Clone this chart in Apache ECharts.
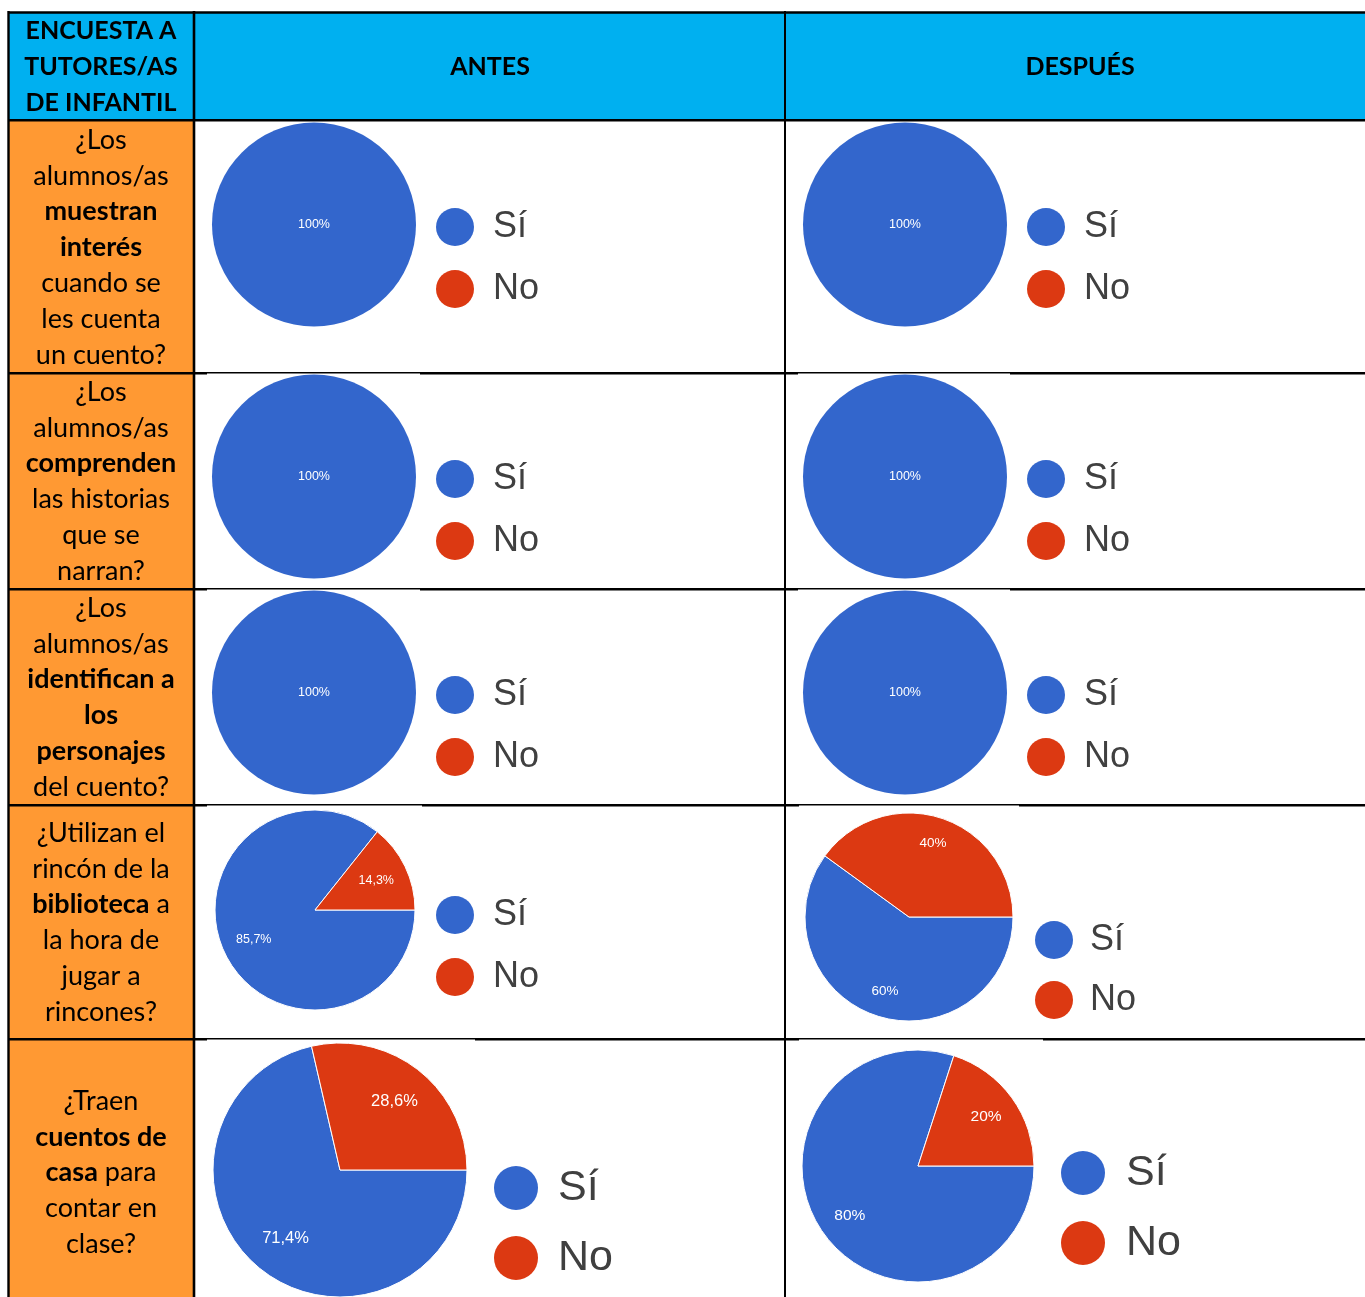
<!DOCTYPE html>
<html><head><meta charset="utf-8">
<script src="https://cdn.jsdelivr.net/npm/echarts@6/dist/echarts.min.js"></script>
<style>html,body{margin:0;padding:0;background:#fff}#c{width:1365px;height:1297px}</style>
</head><body><div id="c"></div>
<script>
// ---- data ----
const seriesNames = ['Sí', 'No'];
const antesSi = [100, 100, 100, 85.7, 71.4];
const antesNo = [0, 0, 0, 14.3, 28.6];
const despuesSi = [100, 100, 100, 60, 80];
const despuesNo = [0, 0, 0, 40, 20];
const columnHeaders = ['ANTES', 'DESPUÉS'];
const cornerHeader = ['ENCUESTA A', 'TUTORES/AS', 'DE INFANTIL'];
const questions = [
  ['¿Los', 'alumnos/as', '**muestran**', '**interés**', 'cuando se', 'les cuenta', 'un cuento?'],
  ['¿Los', 'alumnos/as', '**comprenden**', 'las historias', 'que se', 'narran?'],
  ['¿Los', 'alumnos/as', '**identifican a**', '**los**', '**personajes**', 'del cuento?'],
  ['¿Utilizan el', 'rincón de la', '**biblioteca** a', 'la hora de', 'jugar a', 'rincones?'],
  ['¿Traen', '**cuentos de**', '**casa** para', 'contar en', 'clase?']
];

// ---- layout / style ----
const BLUE = '#3366CC', RED = '#DC3912', CYAN = '#00B0F0', ORANGE = '#FF9933';
const colX = [8, 194, 785, 1366];
const rowY = [12, 120, 373, 589, 805, 1039, 1297];
const textTop = [140, 392, 608, 833, 1101];
const lineStep = 35.8;
const colCenter = [101, 490, 1080];
// [cx, cy, r, labelFontSize, labelRingFactor]
const pieAntes = [[314,224.5,102,12.5,1.4],[314,476.5,102,12.5,1.4],[314,692.5,102,12.5,1.4],[315,910,100,12.5,1.3],[340,1170,127,16.5,1.33]];
const pieDespues = [[905,224.5,102,12.5,1.4],[905,476.5,102,12.5,1.4],[905,692.5,102,12.5,1.4],[909,917,104,13.5,1.44],[918,1166,116,15.5,1.4]];
// [left, top, diameter, gap, fontSize, textGap]
const legAntes = [[436,208,38,24,36,19],[436,460,38,24,36,19],[436,676,38,24,36,19],[436,896,38,24,36,19],[494,1166,44,26,43,20]];
const legDespues = [[1027,208,38,24,36,19],[1027,460,38,24,36,19],[1027,676,38,24,36,19],[1035,921,38,22,36,17],[1061,1151,44,26,43,21]];
const covers = [[207,420,373],[207,420,589],[207,422,805],[207,475,1039],[798,1010,373],[798,1010,589],[799,1019,805],[799,1043,1039]];

const fmt = v => String(v).replace('.', ',') + '%';

const series = [];
const legends = [];
function addPie(si, no, p, l) {
  const [cx, cy, r, fs, rf] = p;
  const full = si === 0 || no === 0;
  const data = [
    { name: seriesNames[0], value: si, itemStyle: { color: BLUE } },
    { name: seriesNames[1], value: no, itemStyle: { color: RED } }
  ];
  series.push({
    type: 'pie', center: [cx, cy], radius: r, startAngle: 0, clockwise: true,
    silent: true, animation: false, avoidLabelOverlap: false,
    itemStyle: { borderColor: '#fff', borderWidth: full ? 0 : 1 },
    label: full ? { show: true, position: 'center', color: '#fff', fontSize: fs, fontFamily: 'Liberation Sans, Arial',
      padding: [3, 0, 0, 0],
      formatter: q => q.value > 0 ? fmt(q.value) : '' } : { show: false },
    labelLine: { show: false }, emphasis: { disabled: true },
    data: data
  });
  if (!full) {
    series.push({
      type: 'pie', center: [cx, cy], radius: [0, r * rf], startAngle: 0, clockwise: true,
      silent: true, animation: false, avoidLabelOverlap: false, z: 3,
      itemStyle: { color: 'rgba(0,0,0,0)', borderWidth: 0 },
      label: { show: true, position: 'inside', color: '#fff', fontSize: fs, fontFamily: 'Liberation Sans, Arial',
        padding: [3, 0, 0, 0],
        formatter: q => q.value > 0 ? fmt(q.value) : '' },
      labelLine: { show: false }, emphasis: { disabled: true },
      data: data.map(d => ({ name: d.name, value: d.value, itemStyle: { color: 'rgba(0,0,0,0)' } }))
    });
  }
  const [lx, ly, d, gap, lfs, tg] = l;
  legends.push({
    left: lx, top: ly, orient: 'vertical', padding: 0, icon: 'circle', selectedMode: false,
    itemWidth: d, itemHeight: d, itemGap: gap,
    itemStyle: { borderWidth: 0 },
    textStyle: { fontSize: lfs, color: '#404040', fontFamily: 'Liberation Sans, Arial', lineHeight: d, padding: [0, 0, 0, tg - 5] },
    data: [
      { name: seriesNames[0], itemStyle: { color: BLUE, borderWidth: 0 } },
      { name: seriesNames[1], itemStyle: { color: RED, borderWidth: 0 } }
    ]
  });
}
for (let i = 0; i < antesSi.length; i++) {
  addPie(antesSi[i], antesNo[i], pieAntes[i], legAntes[i]);
  addPie(despuesSi[i], despuesNo[i], pieDespues[i], legDespues[i]);
}

// ---- table graphics ----
const g = [];
g.push({ type: 'rect', shape: { x: colX[0], y: rowY[0], width: colX[3] - colX[0], height: rowY[1] - rowY[0] }, style: { fill: CYAN } });
g.push({ type: 'rect', shape: { x: colX[0], y: rowY[1], width: colX[1] - colX[0], height: rowY[6] - rowY[1] }, style: { fill: ORANGE } });
const hl = (y, lw) => g.push({ type: 'line', shape: { x1: colX[0], y1: y, x2: colX[3], y2: y }, style: { stroke: '#000', lineWidth: lw } });
const vl = (x, lw) => g.push({ type: 'line', shape: { x1: x, y1: rowY[0] - 1, x2: x, y2: rowY[6] }, style: { stroke: '#000', lineWidth: lw } });
hl(rowY[0] + 0.5, 2.4);
for (let i = 1; i < 6; i++) hl(rowY[i] + 0.3, 2.6);
vl(colX[0] + 0.5, 2.4);
vl(colX[1], 2.6);
vl(colX[2], 2);
covers.forEach(c => g.push({ type: 'rect', shape: { x: c[0], y: c[2] + 0.6, width: c[1] - c[0], height: 1.4 }, style: { fill: '#fff' } }));

const richStyles = {
  n: { fontFamily: 'Lato', fontSize: 27, fill: '#000' },
  b: { fontFamily: 'Lato', fontSize: 27, fontWeight: 'bold', fill: '#000' }
};
const toRich = s => s.split('**').map((p, i) => p ? '{' + (i % 2 ? 'b' : 'n') + '|' + p + '}' : '').join('');
questions.forEach((lines, qi) => {
  lines.forEach((ln, li) => {
    g.push({ type: 'text', x: colCenter[0], y: textTop[qi] + li * lineStep, z: 10,
      style: { text: toRich(ln), align: 'center', verticalAlign: 'middle', rich: richStyles } });
  });
});
cornerHeader.forEach((t, i) => g.push({ type: 'text', x: colCenter[0], y: 31 + i * 36, z: 10,
  style: { text: t, align: 'center', verticalAlign: 'middle', fontFamily: 'Lato', fontWeight: 'bold', fontSize: 25, fill: '#000' } }));
columnHeaders.forEach((t, i) => g.push({ type: 'text', x: colCenter[i + 1], y: 67, z: 10,
  style: { text: t, align: 'center', verticalAlign: 'middle', fontFamily: 'Lato', fontWeight: 'bold', fontSize: 25, fill: '#000' } }));

const chart = echarts.init(document.getElementById('c'), null, { renderer: 'canvas' });
chart.setOption({
  animation: false,
  backgroundColor: '#fff',
  graphic: { elements: g },
  legend: legends,
  series: series
});
</script>
</body></html>
